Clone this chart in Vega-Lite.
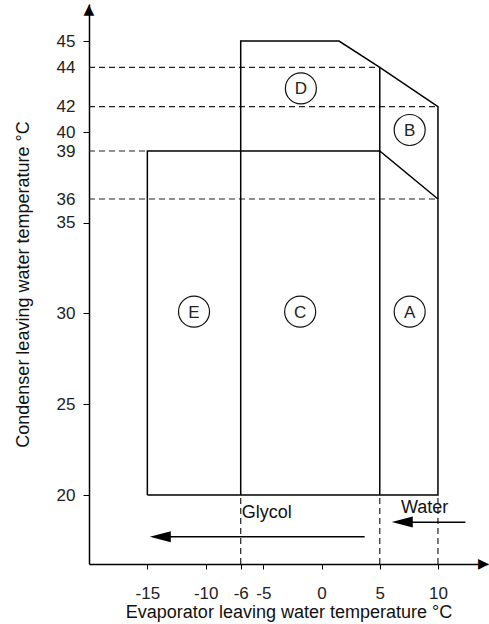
{
  "$schema": "https://vega.github.io/schema/vega-lite/v6.json",
  "width": 399,
  "height": 560,
  "autosize": "none",
  "padding": {"left": 89, "top": 4, "right": 1, "bottom": 60},
  "background": "white",
  "config": {
    "view": {"stroke": null},
    "font": "Liberation Sans",
    "axis": {"grid": false, "labelFont": "Liberation Sans", "titleFont": "Liberation Sans"}
  },
  "datasets": {
    "solid": [
      {"path": "lower", "ord": 1, "x": -15, "y": 20},
      {"path": "lower", "ord": 2, "x": -15, "y": 39},
      {"path": "lower", "ord": 3, "x": 5, "y": 39},
      {"path": "lower", "ord": 4, "x": 10, "y": 36},
      {"path": "lower", "ord": 5, "x": 10, "y": 20},
      {"path": "lower", "ord": 6, "x": -15, "y": 20},
      {"path": "upper", "ord": 1, "x": -6, "y": 20},
      {"path": "upper", "ord": 2, "x": -6, "y": 45},
      {"path": "upper", "ord": 3, "x": 1.5, "y": 45},
      {"path": "upper", "ord": 4, "x": 5, "y": 44},
      {"path": "upper", "ord": 5, "x": 10, "y": 42},
      {"path": "upper", "ord": 6, "x": 10, "y": 36},
      {"path": "v5", "ord": 1, "x": 5, "y": 20},
      {"path": "v5", "ord": 2, "x": 5, "y": 44},
      {"path": "glycol", "ord": 1, "x": -14, "y": 17.7},
      {"path": "glycol", "ord": 2, "x": 3.7, "y": 17.7},
      {"path": "water", "ord": 1, "x": 6.9, "y": 18.5},
      {"path": "water", "ord": 2, "x": 12.36, "y": 18.5}
    ],
    "dashed": [
      {"path": "h44", "ord": 1, "x": -20, "y": 44},
      {"path": "h44", "ord": 2, "x": 5, "y": 44},
      {"path": "h42", "ord": 1, "x": -20, "y": 42},
      {"path": "h42", "ord": 2, "x": 10, "y": 42},
      {"path": "h39", "ord": 1, "x": -20, "y": 39},
      {"path": "h39", "ord": 2, "x": -15, "y": 39},
      {"path": "h36", "ord": 1, "x": -20, "y": 36},
      {"path": "h36", "ord": 2, "x": 10, "y": 36},
      {"path": "vm6", "ord": 1, "x": -6, "y": 16.2},
      {"path": "vm6", "ord": 2, "x": -6, "y": 20},
      {"path": "v5", "ord": 1, "x": 5, "y": 16.2},
      {"path": "v5", "ord": 2, "x": 5, "y": 20},
      {"path": "v10", "ord": 1, "x": 10, "y": 16.2},
      {"path": "v10", "ord": 2, "x": 10, "y": 20}
    ],
    "zones": [
      {"zone": "D", "x": -1.78, "y": 42.93},
      {"zone": "B", "x": 7.57, "y": 40.16},
      {"zone": "E", "x": -11.0, "y": 30.1},
      {"zone": "C", "x": -1.84, "y": 30.1},
      {"zone": "A", "x": 7.57, "y": 30.1}
    ],
    "heads": [
      {"name": "glycol", "x": -13.89, "y": 17.7},
      {"name": "water", "x": 6.93, "y": 18.51}
    ],
    "axis_heads": [
      {"glyph": "▲", "x": -20, "y": 46.68},
      {"glyph": "▶", "x": 13.9, "y": 16.2}
    ],
    "glycol_label": [{"label": "Glycol", "x": -6, "y": 19.03}],
    "water_label": [{"label": "Water", "x": 8.86, "y": 19.3}]
  },
  "encoding": {
    "x": {
      "field": "x", "type": "quantitative",
      "scale": {"domain": [-20, -10, -6, -5, 14.3], "range": [0, 116.7, 151.7, 174.4, 399], "nice": false, "zero": false},
      "axis": {
        "values": [-15, -10, -6, -5, 0, 5, 10],
        "labelExpr": "'' + datum.value",
        "title": "Evaporator leaving water temperature °C",
        "titleFontSize": 18, "titleFontWeight": "normal", "titleColor": "#111",
        "labelFontSize": 17, "labelColor": "#222",
        "labelOverlap": false, "labelFlush": false, "labelBound": false,
        "tickSize": 5, "tickColor": "black", "labelPadding": 16,
        "domainColor": "black", "domainWidth": 1.5,
        "titlePadding": 2
      }
    },
    "y": {
      "field": "y", "type": "quantitative",
      "scale": {"domain": [16.2, 35, 36, 39, 40, 42, 44, 45, 47], "range": [560, 218.7, 195, 147, 128, 102.7, 63.3, 37, 0], "nice": false, "zero": false},
      "axis": {
        "values": [20, 25, 30, 35, 36, 39, 40, 42, 44, 45],
        "title": "Condenser leaving water temperature °C",
        "titleFontSize": 18, "titleFontWeight": "normal", "titleColor": "#111",
        "labelFontSize": 17, "labelColor": "#222",
        "labelOverlap": false, "labelFlush": false, "labelBound": false,
        "tickSize": 6, "tickColor": "black",
        "tickOpacity": {"condition": {"test": "indexof([36,39,42,44], datum.value) >= 0", "value": 0}, "value": 1},
        "labelPadding": 8,
        "domainColor": "black", "domainWidth": 1.5,
        "titlePadding": 24
      }
    }
  },
  "layer": [
    {
      "data": {"name": "dashed"},
      "mark": {"type": "line", "color": "#222", "strokeWidth": 1.2, "strokeDash": [6, 4]},
      "encoding": {"detail": {"field": "path"}, "order": {"field": "ord"}}
    },
    {
      "data": {"name": "solid"},
      "mark": {"type": "line", "color": "black", "strokeWidth": 1.5},
      "encoding": {"detail": {"field": "path"}, "order": {"field": "ord"}}
    },
    {
      "data": {"name": "zones"},
      "mark": {"type": "point", "shape": "circle", "filled": false, "size": 961, "stroke": "#111", "strokeWidth": 1.2, "opacity": 1}
    },
    {
      "data": {"name": "zones"},
      "mark": {"type": "text", "fontSize": 17, "color": "#222", "align": "center", "baseline": "middle", "dy": 1},
      "encoding": {"text": {"field": "zone"}}
    },
    {
      "data": {"name": "heads"},
      "mark": {"type": "point", "shape": "M-1,0L1,-0.52L1,0.52Z", "size": 441, "filled": true, "color": "black", "opacity": 1}
    },
    {
      "data": {"name": "axis_heads"},
      "mark": {"type": "text", "font": "DejaVu Sans", "fontSize": 14, "color": "black", "align": "center", "baseline": "middle"},
      "encoding": {"text": {"field": "glyph"}}
    },
    {
      "data": {"name": "glycol_label"},
      "mark": {"type": "text", "fontSize": 18, "color": "#111", "baseline": "middle", "align": "left", "dx": 1},
      "encoding": {"text": {"field": "label"}}
    },
    {
      "data": {"name": "water_label"},
      "mark": {"type": "text", "fontSize": 18, "color": "#111", "baseline": "middle", "align": "center"},
      "encoding": {"text": {"field": "label"}}
    }
  ]
}
